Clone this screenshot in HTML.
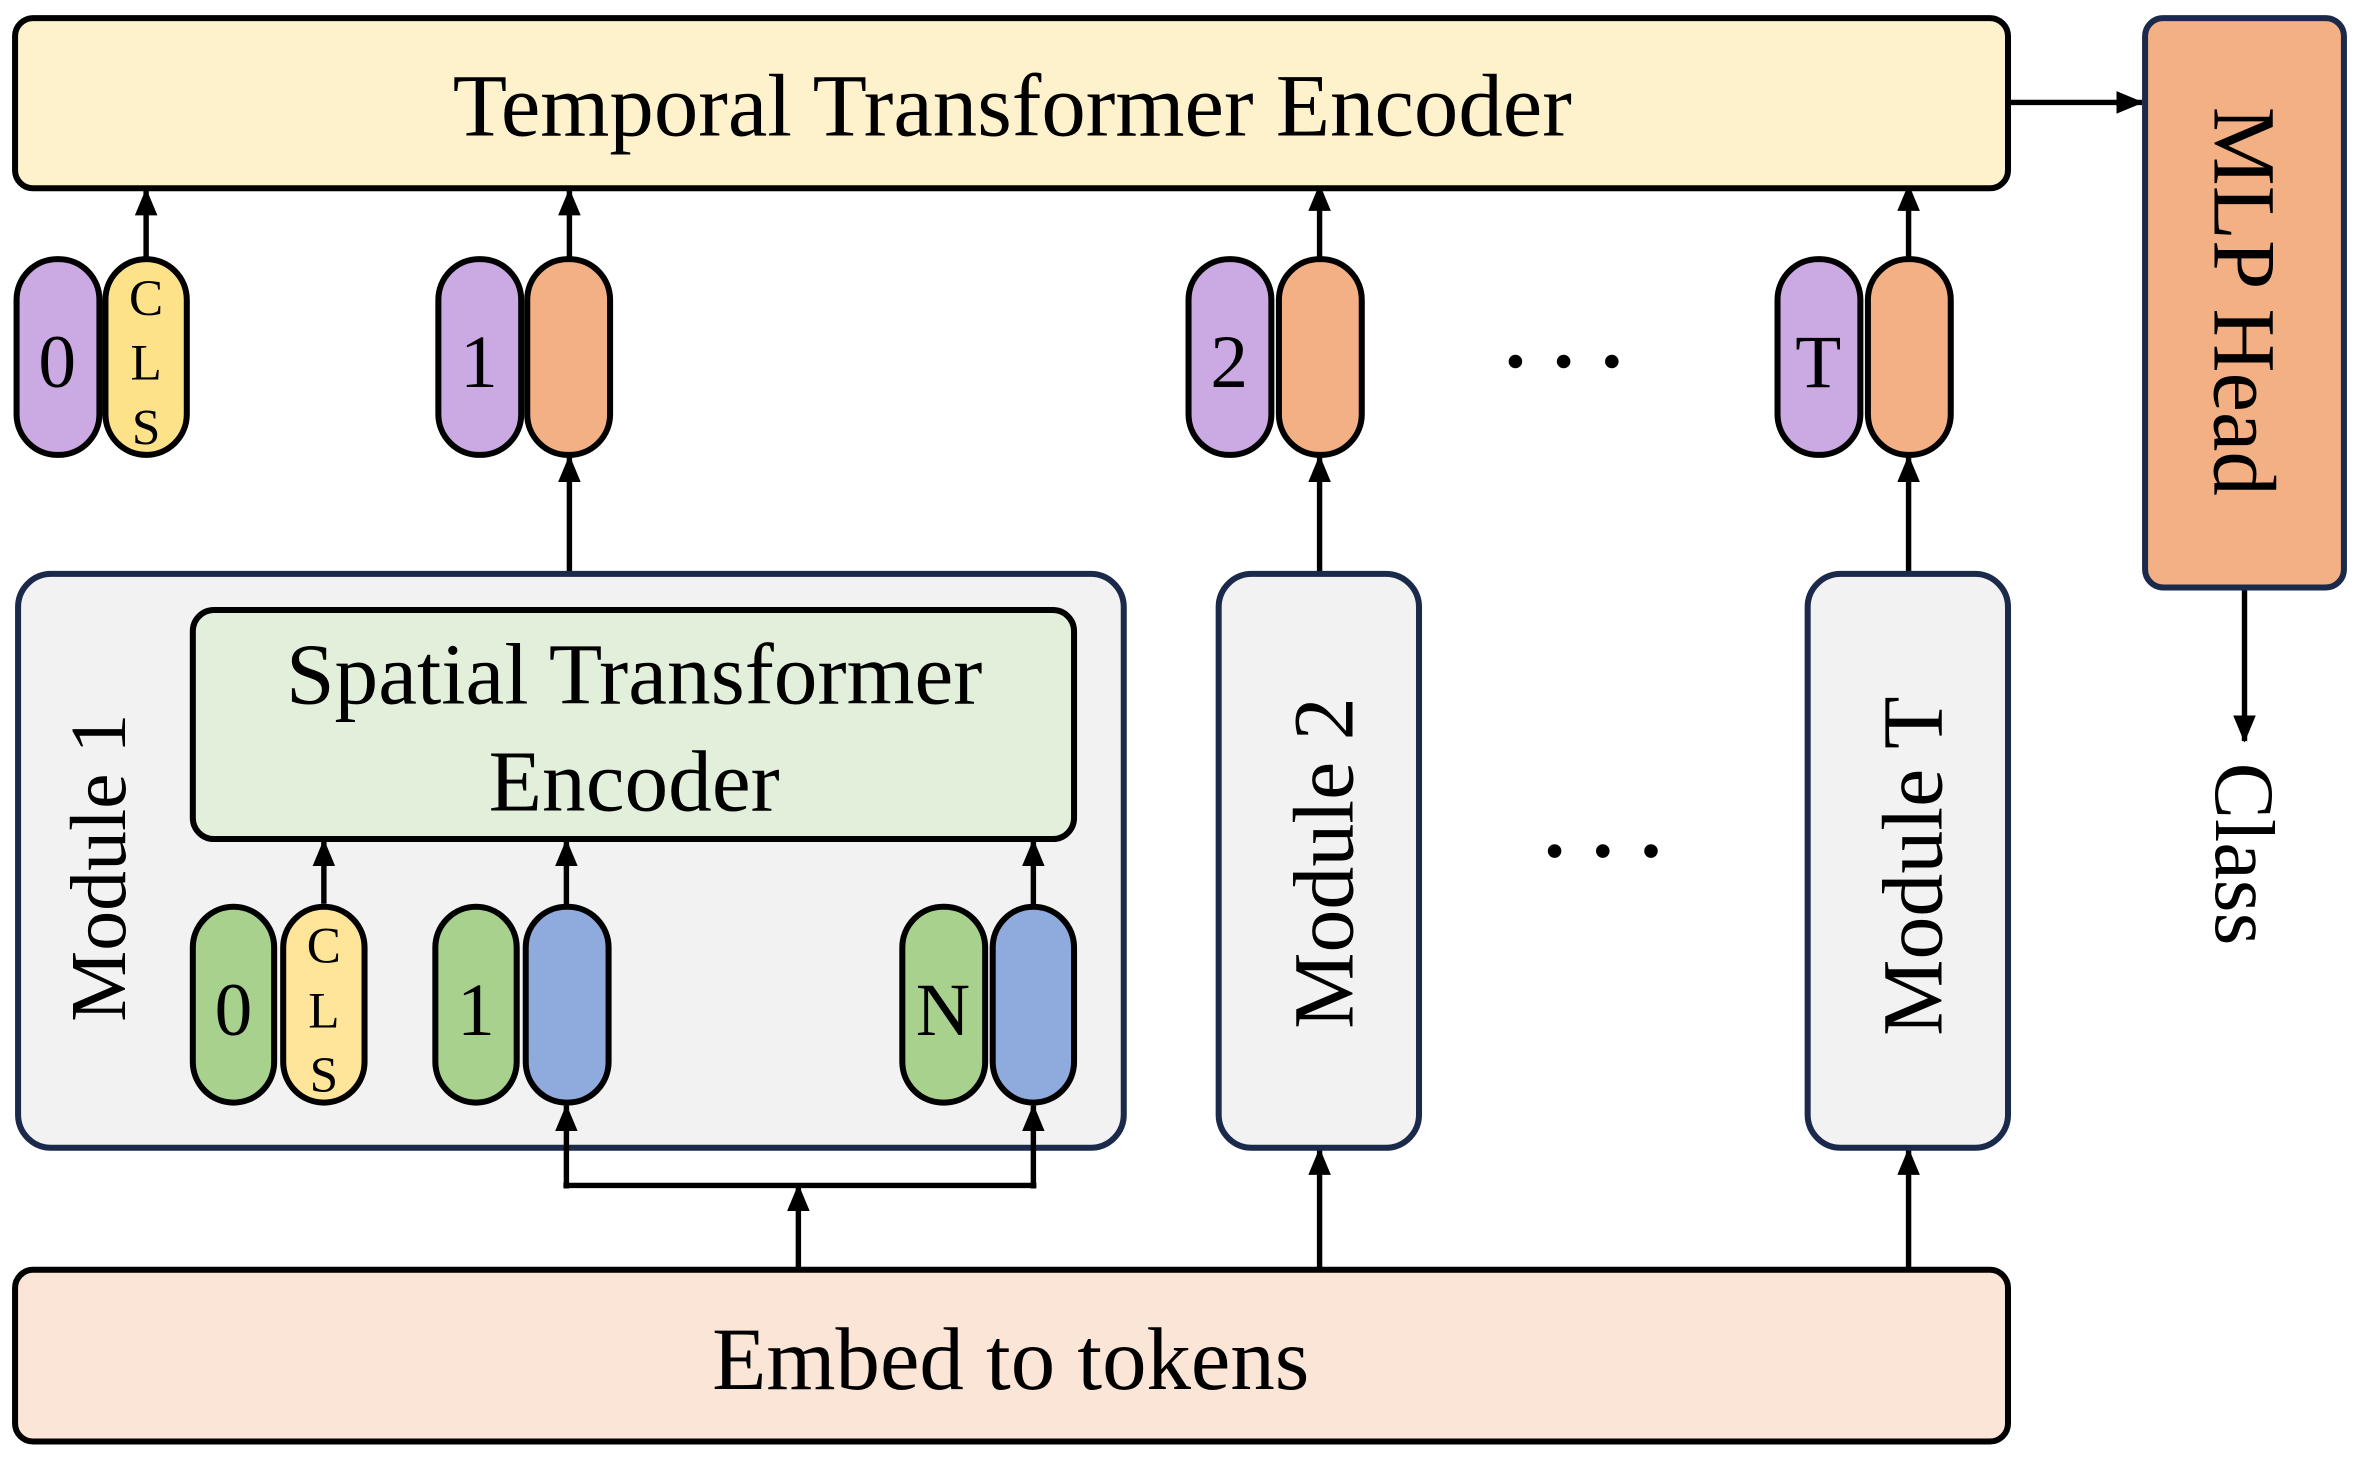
<!DOCTYPE html>
<html><head><meta charset="utf-8"><style>
html,body{margin:0;padding:0;background:#fff;}
svg{display:block;}
text{font-family:"Liberation Serif",serif;fill:#000;}
</style></head><body>
<svg width="2362" height="1462" viewBox="0 0 1568 970.6" preserveAspectRatio="none" xmlns="http://www.w3.org/2000/svg">
<defs>
<marker id="a" markerWidth="18" markerHeight="15" refX="17" refY="7.5" orient="auto" markerUnits="userSpaceOnUse" viewBox="0 0 18 15">
<path d="M0,0 L18,7.5 L0,15 z" fill="#000"/></marker>
</defs>
<g stroke="#000" stroke-width="3.6" fill="none">
<line x1="1333" y1="68" x2="1422" y2="68" marker-end="url(#a)"/>
<line x1="1490" y1="390" x2="1490" y2="492" marker-end="url(#a)"/>
<line x1="97" y1="172" x2="97" y2="126" marker-end="url(#a)"/>
<line x1="378" y1="172" x2="378" y2="126" marker-end="url(#a)"/>
<line x1="876" y1="172" x2="876" y2="123" marker-end="url(#a)"/>
<line x1="1267" y1="172" x2="1267" y2="123" marker-end="url(#a)"/>
<line x1="378" y1="380" x2="378" y2="303" marker-end="url(#a)"/>
<line x1="876" y1="380" x2="876" y2="303" marker-end="url(#a)"/>
<line x1="1267" y1="380" x2="1267" y2="303" marker-end="url(#a)"/>
<line x1="876" y1="843" x2="876" y2="763" marker-end="url(#a)"/>
<line x1="1267" y1="843" x2="1267" y2="763" marker-end="url(#a)"/>
</g>
<rect x="10" y="12" width="1323" height="113" rx="12" fill="#fef2cd" stroke="#000" stroke-width="4"/>
<text x="672" y="90" font-size="59" text-anchor="middle">Temporal Transformer Encoder</text>
<rect x="1424" y="12" width="132" height="378" rx="12" fill="#f2b084" stroke="#1b2a4a" stroke-width="4"/>
<text transform="translate(1470,200) rotate(90)" font-size="59" text-anchor="middle">MLP Head</text>
<text transform="translate(1471,567) rotate(90)" font-size="56" text-anchor="middle">Class</text>
<rect x="10" y="843" width="1323" height="114" rx="12" fill="#fbe5d6" stroke="#000" stroke-width="4"/>
<text x="671" y="922" font-size="59" text-anchor="middle">Embed to tokens</text>
<g stroke="#000" stroke-width="4">
<rect x="11" y="172" width="55" height="130" rx="27" fill="#cba9e3"/>
<rect x="70" y="172" width="54" height="130" rx="27" fill="#fee28a"/>
<rect x="291" y="172" width="55" height="130" rx="27" fill="#cba9e3"/>
<rect x="350" y="172" width="55" height="130" rx="27" fill="#f2b084"/>
<rect x="789" y="172" width="55" height="130" rx="27" fill="#cba9e3"/>
<rect x="849" y="172" width="55" height="130" rx="27" fill="#f2b084"/>
<rect x="1180" y="172" width="55" height="130" rx="27" fill="#cba9e3"/>
<rect x="1240" y="172" width="55" height="130" rx="27" fill="#f2b084"/>
</g>
<text x="38" y="257" font-size="50" text-anchor="middle">0</text>
<text x="97" y="209" font-size="34" text-anchor="middle">C</text>
<text x="97" y="252" font-size="34" text-anchor="middle">L</text>
<text x="97" y="295" font-size="34" text-anchor="middle">S</text>
<text x="318" y="257" font-size="50" text-anchor="middle">1</text>
<text x="816" y="257" font-size="50" text-anchor="middle">2</text>
<text x="1207" y="257" font-size="50" text-anchor="middle">T</text>
<g fill="#000"><circle cx="1006" cy="240" r="4.5"/><circle cx="1038" cy="240" r="4.5"/><circle cx="1070" cy="240" r="4.5"/>
<circle cx="1032" cy="565" r="4.5"/><circle cx="1064" cy="565" r="4.5"/><circle cx="1096" cy="565" r="4.5"/>
<circle cx="477" cy="670" r="4.5"/><circle cx="507" cy="670" r="4.5"/><circle cx="537" cy="670" r="4.5"/></g>
<rect x="12" y="381" width="734" height="381" rx="22" fill="#f2f2f2" stroke="#1b2a4a" stroke-width="4"/>
<text transform="translate(83,576) rotate(-90)" font-size="53" text-anchor="middle">Module 1</text>
<rect x="128" y="405" width="585" height="152" rx="14" fill="#e2efda" stroke="#000" stroke-width="4"/>
<text x="421" y="467" font-size="58" text-anchor="middle">Spatial Transformer</text>
<text x="421" y="538" font-size="58" text-anchor="middle">Encoder</text>
<g stroke="#000" stroke-width="3.6" fill="none">
<line x1="215" y1="600" x2="215" y2="558" marker-end="url(#a)"/>
<line x1="376" y1="601" x2="376" y2="558" marker-end="url(#a)"/>
<line x1="686" y1="601" x2="686" y2="558" marker-end="url(#a)"/>
<polyline points="374,787 688,787"/>
<line x1="376" y1="789" x2="376" y2="734" marker-end="url(#a)"/>
<line x1="686" y1="789" x2="686" y2="734" marker-end="url(#a)"/>
<line x1="530" y1="843" x2="530" y2="787" marker-end="url(#a)"/>
</g>
<g stroke="#000" stroke-width="4">
<rect x="128" y="602" width="54" height="130" rx="27" fill="#a9d18e"/>
<rect x="188" y="602" width="54" height="130" rx="27" fill="#fee599"/>
<rect x="289" y="602" width="54" height="130" rx="27" fill="#a9d18e"/>
<rect x="349" y="602" width="55" height="130" rx="27" fill="#8faadc"/>
<rect x="599" y="602" width="55" height="130" rx="27" fill="#a9d18e"/>
<rect x="659" y="602" width="54" height="130" rx="27" fill="#8faadc"/>
</g>
<text x="155" y="687" font-size="50" text-anchor="middle">0</text>
<text x="215" y="639" font-size="34" text-anchor="middle">C</text>
<text x="215" y="682" font-size="34" text-anchor="middle">L</text>
<text x="215" y="725" font-size="34" text-anchor="middle">S</text>
<text x="316" y="687" font-size="50" text-anchor="middle">1</text>
<text x="626" y="687" font-size="50" text-anchor="middle">N</text>
<rect x="809" y="381" width="133" height="381" rx="22" fill="#f2f2f2" stroke="#1b2a4a" stroke-width="4"/>
<text transform="translate(898,573) rotate(-90)" font-size="57" text-anchor="middle">Module 2</text>
<rect x="1200" y="381" width="133" height="381" rx="22" fill="#f2f2f2" stroke="#1b2a4a" stroke-width="4"/>
<text transform="translate(1289,575) rotate(-90)" font-size="57" text-anchor="middle">Module T</text>
</svg>
</body></html>
